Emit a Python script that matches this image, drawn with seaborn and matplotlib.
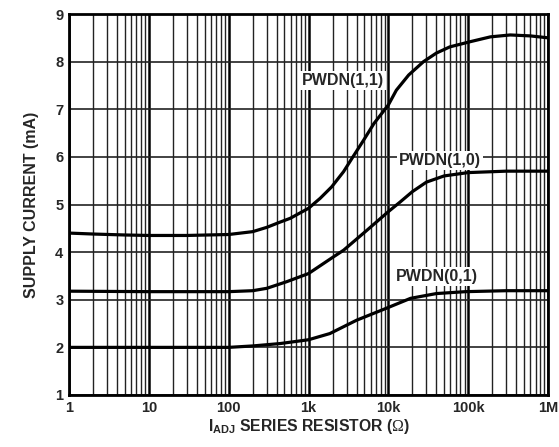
import matplotlib
matplotlib.use('Agg')
import matplotlib.pyplot as plt
from matplotlib.ticker import LogLocator, NullFormatter
import seaborn as sns
import pandas as pd

# values
res_11 = [1, 2, 5, 10, 30, 100, 200, 300, 440, 590, 1000, 1400, 1950, 2750, 3600, 4900,
          6600, 10000, 12600, 18000, 27600, 40000, 59000, 107000, 190000, 337000, 600000, 1e6]
cur_11 = [4.40, 4.38, 4.36, 4.35, 4.35, 4.37, 4.43, 4.52, 4.63, 4.71, 4.92, 5.13, 5.37, 5.69, 6.00, 6.35,
          6.70, 7.09, 7.40, 7.72, 8.00, 8.18, 8.31, 8.42, 8.52, 8.56, 8.54, 8.50]

res_10 = [1, 10, 100, 200, 300, 535, 1000, 2050, 2750, 5400, 10000, 14000, 20000, 30000,
          50000, 100000, 300000, 1e6]
cur_10 = [3.18, 3.17, 3.17, 3.19, 3.24, 3.38, 3.55, 3.90, 4.04, 4.46, 4.85, 5.05, 5.27, 5.47,
          5.60, 5.67, 5.70, 5.70]

res_01 = [1, 100, 200, 440, 1000, 1850, 4000, 9400, 19000, 40000, 93000, 300000, 1e6]
cur_01 = [2.00, 2.00, 2.03, 2.08, 2.16, 2.29, 2.57, 2.82, 3.03, 3.13, 3.17, 3.19, 3.19]

curve_names = ['PWDN(1,1)', 'PWDN(1,0)', 'PWDN(0,1)']
label_x = [2700, 44600, 40000]
label_y = [7.61, 5.93, 3.48]

x_ticks = [1, 10, 100, 1e3, 1e4, 1e5, 1e6]
x_tick_labels = ['1', '10', '100', '1k', '10k', '100k', '1M']
y_ticks = [1, 2, 3, 4, 5, 6, 7, 8, 9]

df = pd.concat([
    pd.DataFrame({'r': res_11, 'i': cur_11, 'mode': curve_names[0]}),
    pd.DataFrame({'r': res_10, 'i': cur_10, 'mode': curve_names[1]}),
    pd.DataFrame({'r': res_01, 'i': cur_01, 'mode': curve_names[2]}),
])

sns.set_style('white')
plt.rcParams['font.family'] = ['Liberation Sans', 'DejaVu Sans']
plt.rcParams['mathtext.fontset'] = 'custom'
plt.rcParams['mathtext.rm'] = 'Liberation Serif'
plt.rcParams['mathtext.bf'] = 'Liberation Sans:bold'

fig = plt.figure(figsize=(5.59, 4.47), dpi=100)
ax = fig.add_axes([69 / 559, 52 / 447, 479 / 559, 381 / 447])

sns.lineplot(data=df, x='r', y='i', units='mode', estimator=None, sort=False,
             color='black', linewidth=2.3, ax=ax, zorder=3)

ax.set_xscale('log')
ax.set_xlim(1, 1e6)
ax.set_ylim(1, 9)
ax.set_xticks(x_ticks)
ax.set_xticklabels(x_tick_labels)
ax.xaxis.set_minor_locator(LogLocator(base=10, subs=range(2, 10)))
ax.xaxis.set_minor_formatter(NullFormatter())
ax.set_yticks(y_ticks)

# grid: every minor decade line plus the integer current lines
ax.xaxis.grid(True, which='major', color='black', linewidth=1.8)
ax.xaxis.grid(True, which='minor', color='#222222', linewidth=1.0)
ax.yaxis.grid(True, which='major', color='#222222', linewidth=1.2)
ax.set_axisbelow(True)

for sp in ax.spines.values():
    sp.set_color('black')
    sp.set_linewidth(2.0)

ax.tick_params(which='both', length=0, labelsize=10.5, pad=4)
for lab in ax.get_xticklabels() + ax.get_yticklabels():
    lab.set_fontweight('bold')

for name, lx, ly in zip(curve_names, label_x, label_y):
    ax.text(lx, ly, name, ha='center', va='center', fontsize=11.5, fontweight='bold',
            bbox=dict(facecolor='white', edgecolor='none', pad=1.5), zorder=4)

ax.set_xlabel(r'I$_{\mathbf{ADJ}}$ SERIES RESISTOR ($\mathrm{\Omega}$)',
              fontsize=11.3, fontweight='bold', labelpad=2)
ax.set_ylabel('SUPPLY CURRENT (mA)', fontsize=11.5, fontweight='bold', labelpad=12)

fig.savefig('out.png', dpi=100, facecolor='white')
